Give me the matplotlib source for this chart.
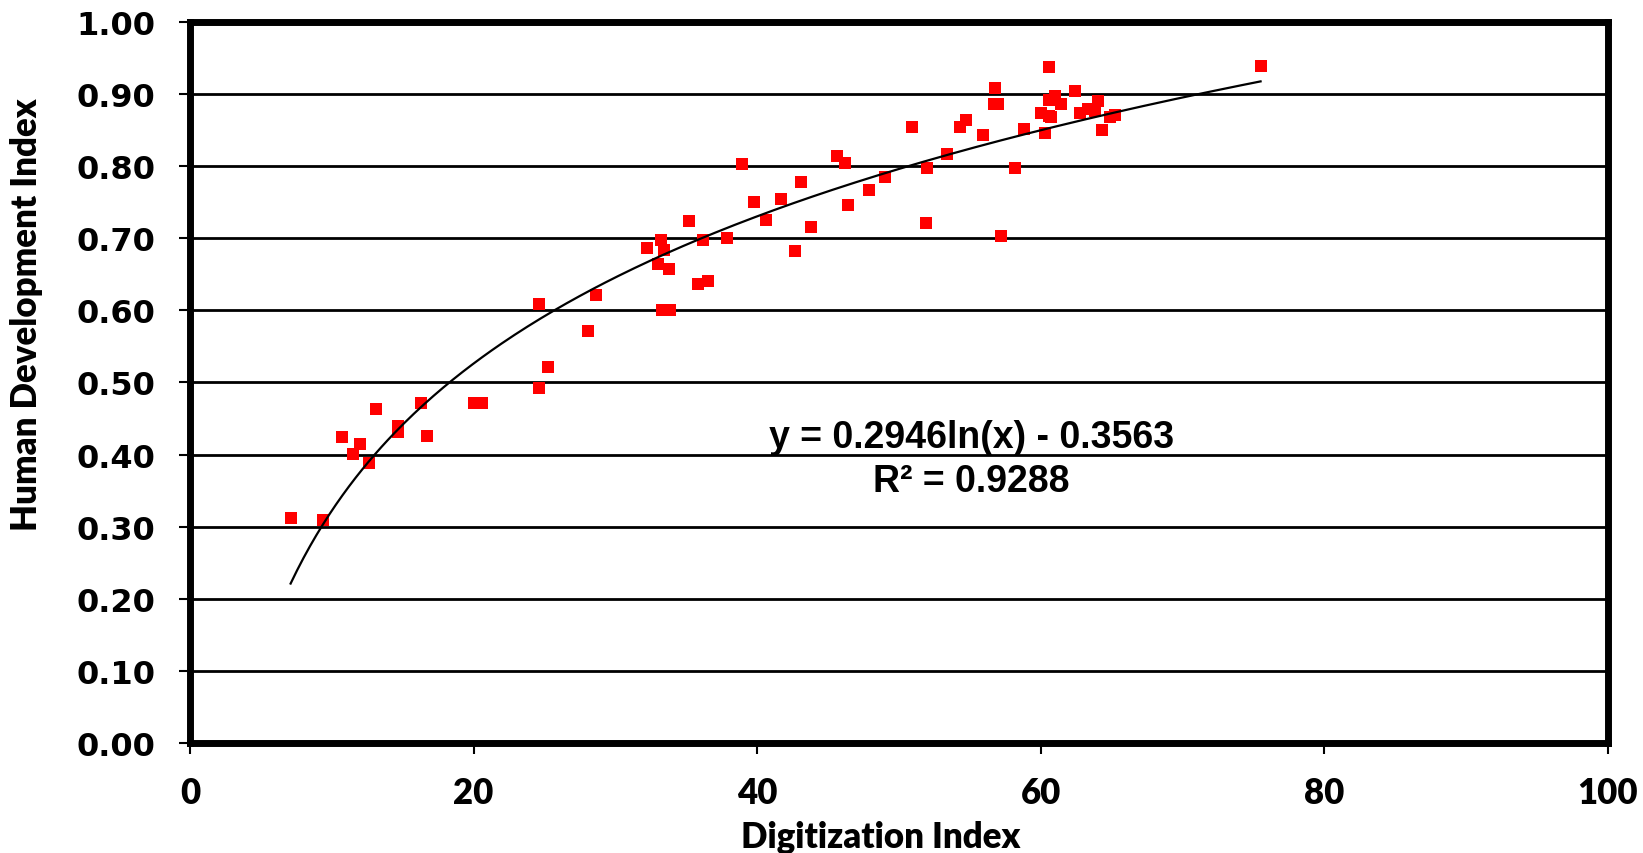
import matplotlib
matplotlib.use("Agg")
import matplotlib.pyplot as plt
import numpy as np

# values
digitization = [7.1, 9.4, 10.7, 11.5, 12.0, 12.6, 13.1, 14.7, 14.7, 16.3, 16.7, 20.0, 20.6,
                24.6, 24.6, 25.25, 28.1, 28.65, 32.2, 33.2, 33.0, 33.4, 33.3, 33.85, 33.8,
                35.2, 35.8, 36.2, 36.5, 37.9, 38.95, 39.8, 40.65, 41.7, 42.7, 43.1, 43.8,
                45.65, 46.2, 46.4, 47.9, 49.05, 50.9, 51.9, 52.0, 53.4, 54.3, 54.7, 55.9,
                56.8, 56.7, 57.0, 57.2, 58.2, 58.8, 60.0, 60.3, 60.6, 60.6, 60.6, 60.75,
                61.0, 61.45, 62.4, 62.8, 63.35, 63.8, 64.05, 64.3, 64.9, 65.2, 75.5]
hdi = [0.312, 0.309, 0.424, 0.401, 0.414, 0.389, 0.463, 0.440, 0.431, 0.471, 0.426, 0.472, 0.472,
       0.609, 0.492, 0.522, 0.571, 0.621, 0.686, 0.698, 0.665, 0.684, 0.600, 0.601, 0.657,
       0.724, 0.636, 0.697, 0.641, 0.701, 0.803, 0.751, 0.726, 0.755, 0.682, 0.778, 0.715,
       0.814, 0.805, 0.746, 0.767, 0.785, 0.855, 0.721, 0.797, 0.817, 0.855, 0.864, 0.843,
       0.909, 0.886, 0.886, 0.703, 0.797, 0.852, 0.874, 0.846, 0.937, 0.892, 0.869, 0.868,
       0.898, 0.886, 0.904, 0.874, 0.879, 0.877, 0.890, 0.850, 0.868, 0.871, 0.939]

# log trendline shown on the chart
fit_a = 0.2946
fit_b = -0.3563
r_squared = 0.9288

x_ticks = [0, 20, 40, 60, 80, 100]
y_ticks = [0.0, 0.1, 0.2, 0.3, 0.4, 0.5, 0.6, 0.7, 0.8, 0.9, 1.0]

narrow = ['Lato', 'DejaVu Sans']

fig = plt.figure(figsize=(16.43, 8.54), dpi=100)
ax = fig.add_axes([0.1156, 0.1288, 0.8631, 0.8443])

for yv in y_ticks[1:-1]:
    ax.axhline(yv, color='black', lw=2, zorder=1)

ax.scatter(digitization, hdi, marker='s', s=72, color='#ff0000', linewidths=0, zorder=3)

xs = np.linspace(min(digitization), max(digitization), 300)
ax.plot(xs, fit_a * np.log(xs) + fit_b, color='black', lw=1.6, zorder=4)

ax.text(55.1, 0.424, f"y = {fit_a}ln(x) - {abs(fit_b)}", ha='center', va='center',
        fontsize=27, fontweight='bold', family='Liberation Sans', zorder=5)
ax.text(55.1, 0.363, f"R² = {r_squared}", ha='center', va='center',
        fontsize=27, fontweight='bold', family='Liberation Sans', zorder=5)

ax.set_xlim(0, 100)
ax.set_ylim(0, 1.0)
ax.set_xticks(x_ticks)
ax.set_xticklabels([str(t) for t in x_ticks], fontsize=25, fontweight='heavy', family=narrow)
ax.set_yticks(y_ticks)
ax.set_yticklabels([f"{t:.2f}" for t in y_ticks], fontsize=23, fontweight='bold', family='DejaVu Sans')
ax.tick_params(axis='x', direction='out', length=8, width=1.5, pad=16)
ax.tick_params(axis='y', direction='out', length=8, width=1.5, pad=17)

for side in ['left', 'bottom', 'top', 'right']:
    ax.spines[side].set_linewidth(5)
    ax.spines[side].set_color('black')

ax.set_xlabel("Digitization Index", fontsize=25, fontweight='heavy', family=narrow, va='center')
ax.xaxis.set_label_coords(0.487, -0.130)
ax.set_ylabel("Human Development Index", fontsize=25, fontweight='heavy', family=narrow, va='center')
ax.yaxis.set_label_coords(-0.115, 0.596)

fig.savefig("out.png", dpi=100)
